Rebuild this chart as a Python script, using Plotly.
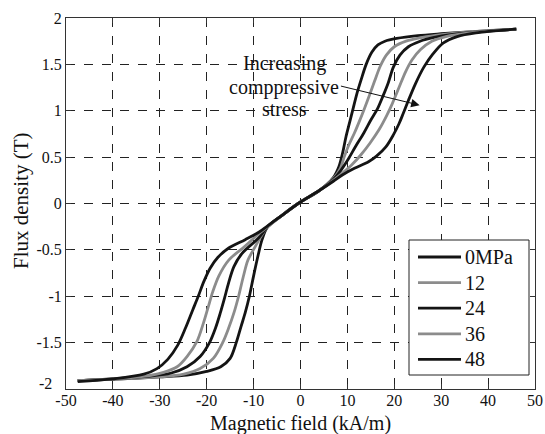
import plotly.graph_objects as go

# ---- data ----
stress_labels = ["0MPa", "12", "24", "36", "48"]

H_0 = [-47.5, -38, -30, -24.2, -20, -17.0, -15.0, -13.7, -12.7, -11.8, -10.9, -10.0, -9.0, -8.2, -7, -4, -0.5,
       4, 7, 8.2, 9.0, 9.7, 10.5, 11.2, 12.0, 12.9, 14.0, 15.2, 16.5, 18.0, 20.5, 25, 30, 36, 46]
B_0 = [-1.91, -1.89, -1.87, -1.85, -1.81, -1.76, -1.67, -1.5, -1.33, -1.18, -1.0, -0.78, -0.55, -0.39, -0.25, -0.13, 0,
       0.14, 0.28, 0.40, 0.55, 0.72, 0.88, 1.02, 1.18, 1.33, 1.50, 1.63, 1.71, 1.75, 1.78, 1.81, 1.83, 1.85, 1.88]

H_12 = [-47.5, -38, -30, -24.9, -21.4, -18.6, -16.6, -15.3, -14.2, -13.2, -12.2, -11.2, -9.6, -8.5, -7, -4, -0.5,
        4, 7, 8.5, 9.3, 10.3, 11.5, 12.5, 13.6, 14.8, 15.8, 17.0, 18.3, 20, 22.5, 26, 30, 36, 46]
B_12 = [-1.91, -1.89, -1.87, -1.84, -1.78, -1.67, -1.5, -1.34, -1.18, -1.0, -0.79, -0.61, -0.46, -0.36, -0.25, -0.13, 0,
        0.14, 0.27, 0.38, 0.50, 0.63, 0.76, 0.88, 1.02, 1.18, 1.32, 1.48, 1.60, 1.69, 1.75, 1.79, 1.82, 1.85, 1.88]

H_24 = [-47.5, -40, -32, -27.7, -24.2, -21.4, -19.4, -18.1, -17.1, -16.2, -15.3, -14.2, -12.5, -8.9, -7, -4, -0.5,
        4, 7, 8.5, 10.2, 11.8, 13.5, 15.0, 16.4, 17.6, 18.7, 19.8, 21.2, 23, 25.5, 28.5, 32, 38, 46]
B_24 = [-1.91, -1.89, -1.86, -1.83, -1.76, -1.65, -1.5, -1.34, -1.18, -1.02, -0.85, -0.68, -0.54, -0.37, -0.25, -0.13, 0,
        0.14, 0.26, 0.35, 0.48, 0.62, 0.76, 0.90, 1.02, 1.16, 1.30, 1.47, 1.60, 1.69, 1.75, 1.79, 1.82, 1.85, 1.88]

H_36 = [-47.5, -40, -33, -29.2, -26.3, -24.2, -22.1, -20.7, -19.7, -18.7, -17.4, -15.3, -11.8, -9, -7, -4, -0.5,
        4, 7, 9, 11, 12.8, 14.8, 16.8, 18.4, 19.6, 21.0, 22.4, 23.8, 25.6, 28, 31, 36, 46]
B_36 = [-1.91, -1.89, -1.86, -1.82, -1.76, -1.65, -1.49, -1.29, -1.12, -0.95, -0.78, -0.61, -0.46, -0.33, -0.25, -0.13, 0,
        0.14, 0.25, 0.33, 0.42, 0.52, 0.65, 0.80, 0.95, 1.08, 1.25, 1.42, 1.55, 1.66, 1.75, 1.80, 1.84, 1.88]

H_48 = [-47.5, -40, -33.4, -30.6, -28.3, -26.2, -24.5, -23.0, -21.8, -20.6, -19.3, -17.6, -15.3, -11.8, -8.9, -7, -4, -0.5,
        4, 7, 9, 11.5, 14.5, 16.2, 18.2, 19.8, 21.0, 21.9, 23.0, 24.5, 26.3, 28.2, 30.4, 33.4, 37.4, 46]
B_48 = [-1.92, -1.89, -1.84, -1.78, -1.68, -1.53, -1.34, -1.15, -1.0, -0.84, -0.70, -0.58, -0.48, -0.39, -0.31, -0.24, -0.13, 0,
        0.14, 0.24, 0.31, 0.38, 0.45, 0.51, 0.61, 0.74, 0.86, 0.97, 1.11, 1.29, 1.47, 1.61, 1.73, 1.80, 1.84, 1.88]

x_ticks = [-50, -40, -30, -20, -10, 0, 10, 20, 30, 40, 50]
y_ticks = [-2, -1.5, -1, -0.5, 0, 0.5, 1, 1.5, 2]

annot_lines = ["Increasing", "comppressive", "stress"]
x_title = "Magnetic field (kA/m)"
y_title = "Flux density (T)"

# ---- figure ----
H_all = [H_0, H_12, H_24, H_36, H_48]
B_all = [B_0, B_12, B_24, B_36, B_48]
colors = ["#141414", "#8c8c8c", "#141414", "#8c8c8c", "#141414"]

FONT = "Liberation Serif, Times New Roman, serif"

# plot area in pixels (for placing non-data decorations)
W, Hpx = 545, 434
L, R, T, B = 66, 10, 18, 45
PW, PH = W - L - R, Hpx - T - B


def px(xp):
    return (xp - L) / PW


def py(yp):
    return (Hpx - B - yp) / PH


fig = go.Figure()
for lab, h, b, c in zip(stress_labels, H_all, B_all, colors):
    fig.add_trace(go.Scatter(x=h, y=b, mode="lines", name=lab, showlegend=False, hoverinfo="skip",
                             line=dict(color=c, width=2.8, shape="spline", smoothing=0.9)))

axis_common = dict(showline=True, linecolor="#333", linewidth=1, mirror="allticks",
                   ticks="inside", ticklen=5, tickcolor="#333", automargin=False,
                   ticklabeloverflow="allow",
                   showgrid=True, gridcolor="#222", gridwidth=1, griddash="dash",
                   zeroline=False, tickfont=dict(family=FONT, size=16, color="#111"))

fig.update_xaxes(range=[-50, 50], tickvals=x_ticks, ticktext=[str(v) for v in x_ticks],
                 ticklabelstandoff=-3, **axis_common)
# the bottom y label (-2) is nudged up-left, as in the reference, so it does not collide with "-50"
y_labels = [("" if i == 0 else f"{v:g}") for i, v in enumerate(y_ticks)]
fig.update_yaxes(range=[-2, 2], tickvals=y_ticks, ticktext=y_labels, **axis_common)
fig.add_annotation(xref="paper", yref="paper", x=px(54), y=py(383), xanchor="right", yanchor="middle",
                   text=f"{y_ticks[0]:g}", showarrow=False, font=dict(family=FONT, size=16, color="#111"))

# axis titles
fig.add_annotation(xref="paper", yref="paper", x=px(300), y=py(410), xanchor="center", yanchor="top",
                   text=x_title, showarrow=False, font=dict(family=FONT, size=20, color="#111"))
fig.add_annotation(xref="paper", yref="paper", x=px(21), y=py(201), xanchor="center", yanchor="middle",
                   text=y_title, textangle=-90, showarrow=False, font=dict(family=FONT, size=21, color="#111"))

# arrow
fig.add_annotation(x=25.4, y=1.06, ax=8.3, ay=1.27, xref="x", yref="y", axref="x", ayref="y",
                   text="", showarrow=True, arrowhead=2, arrowsize=1.7, arrowwidth=1, arrowcolor="#111")
# annotation text lines
for txt, ypix in zip(annot_lines, [63, 87, 109]):
    fig.add_annotation(xref="paper", yref="paper", x=px(284), y=py(ypix), xanchor="center", yanchor="middle",
                       text=txt, showarrow=False, font=dict(family=FONT, size=20, color="#111"))

# legend box (drawn manually to match spacing)
fig.add_shape(type="rect", xref="paper", yref="paper", x0=px(409), x1=px(529), y0=py(375), y1=py(240),
              line=dict(color="#222", width=1), fillcolor="white", layer="above")
for i, (lab, c) in enumerate(zip(stress_labels, colors)):
    ypix = 257 + i * 25.6
    fig.add_shape(type="line", xref="paper", yref="paper", x0=px(418), x1=px(461), y0=py(ypix), y1=py(ypix),
                  line=dict(color=c, width=2.8), layer="above")
    fig.add_annotation(xref="paper", yref="paper", x=px(463), y=py(ypix), xanchor="left", yanchor="middle",
                       text=lab, showarrow=False, font=dict(family=FONT, size=20, color="#111"))

fig.update_layout(
    width=W, height=Hpx,
    margin=dict(l=L, r=R, t=T, b=B),
    paper_bgcolor="white", plot_bgcolor="white",
    showlegend=False, hovermode=False,
)

# remove the browser's default page margin so the figure sits at the window origin
fig.write_html("out.html", config={"displayModeBar": False, "staticPlot": True},
               post_script="document.body.style.margin='0';document.body.style.overflow='hidden';")
